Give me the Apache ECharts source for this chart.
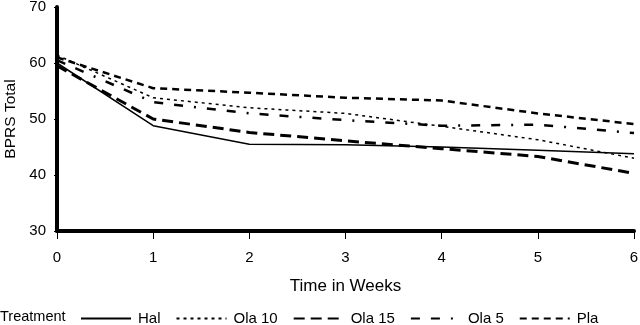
<!DOCTYPE html>
<html>
<head>
<meta charset="utf-8">
<script src="https://cdn.jsdelivr.net/npm/echarts@6/dist/echarts.min.js"></script>
<style>
html, body { margin: 0; padding: 0; background: #fff; }
#main { width: 640px; height: 325px; }
</style>
</head>
<body>
<div id="main"></div>
<script>
// weeks on the x axis
var weeks = [0, 1, 2, 3, 4, 5, 6];
var yTicks = [30, 40, 50, 60, 70];

// BPRS total per treatment
var hal = [60.0, 48.8, 45.5, 45.4, 45.0, 44.4, 43.8];
var ola10 = [61.4, 53.8, 52.0, 51.0, 48.7, 46.3, 43.0];
var ola15 = [59.5, 50.0, 47.6, 46.1, 44.7, 43.3, 40.3];
var ola5 = [60.5, 53.0, 51.0, 49.8, 48.8, 49.0, 47.5];
var pla = [61.0, 55.5, 54.7, 53.8, 53.3, 51.0, 49.1];

var font = 'Liberation Sans, Arial, sans-serif';

function pairs(vals) {
	return weeks.map(function (w, i) { return [w, vals[i]]; });
}

function line(name, vals, width, dash) {
	return {
		name: name,
		type: 'line',
		symbol: 'none',
		data: pairs(vals),
		lineStyle: { color: '#000', width: width, type: dash },
		itemStyle: { color: '#000' },
		animation: false
	};
}

var myChart = echarts.init(document.getElementById('main'));
var option = {
	backgroundColor: '#fff',
	textStyle: { fontFamily: font },
	grid: { left: 57, right: 6, top: 7, bottom: 94, containLabel: false, outerBoundsMode: 'none' },
	graphic: [{
		type: 'text',
		left: 0,
		top: 309,
		style: { text: 'Treatment', font: '14.5px ' + font, fill: '#000' }
	}],
	legend: {
		left: 75,
		top: 306,
		itemWidth: 50,
		itemHeight: 12,
		itemGap: 15,
		itemStyle: { opacity: 0 },
		textStyle: { fontSize: 15, color: '#000', fontFamily: font, padding: [0, 0, 0, 2] },
		data: ['Hal', 'Ola 10', 'Ola 15', 'Ola 5', 'Pla']
	},
	xAxis: {
		type: 'value',
		min: 0,
		max: 6,
		interval: 1,
		name: 'Time in Weeks',
		nameLocation: 'middle',
		nameGap: 47,
		nameTextStyle: { fontSize: 17, color: '#000', fontFamily: font },
		axisLine: { lineStyle: { color: '#000', width: 4 } },
		axisTick: { length: 8, lineStyle: { color: '#000', width: 1 } },
		axisLabel: { fontSize: 15, color: '#000', margin: 19, fontFamily: font },
		splitLine: { show: false }
	},
	yAxis: {
		type: 'value',
		min: yTicks[0],
		max: yTicks[yTicks.length - 1],
		interval: 10,
		name: 'BPRS Total',
		nameLocation: 'middle',
		nameGap: 37,
		nameTextStyle: { fontSize: 15.5, color: '#000', fontFamily: font },
		axisLine: { show: true, lineStyle: { color: '#000', width: 4 } },
		axisTick: { show: true, length: 3, lineStyle: { color: '#000', width: 1 } },
		axisLabel: { fontSize: 15, color: '#000', margin: 11, fontFamily: font },
		splitLine: { show: false }
	},
	series: [
		line('Hal', hal, 1.5, 'solid'),
		line('Ola 10', ola10, 1.5, [3, 4]),
		line('Ola 15', ola15, 3, [11, 6]),
		line('Ola 5', ola5, 2.5, [9, 11, 9, 11, 2, 11]),
		line('Pla', pla, 2.5, [7, 5])
	]
};
myChart.setOption(option);
</script>
</body>
</html>
